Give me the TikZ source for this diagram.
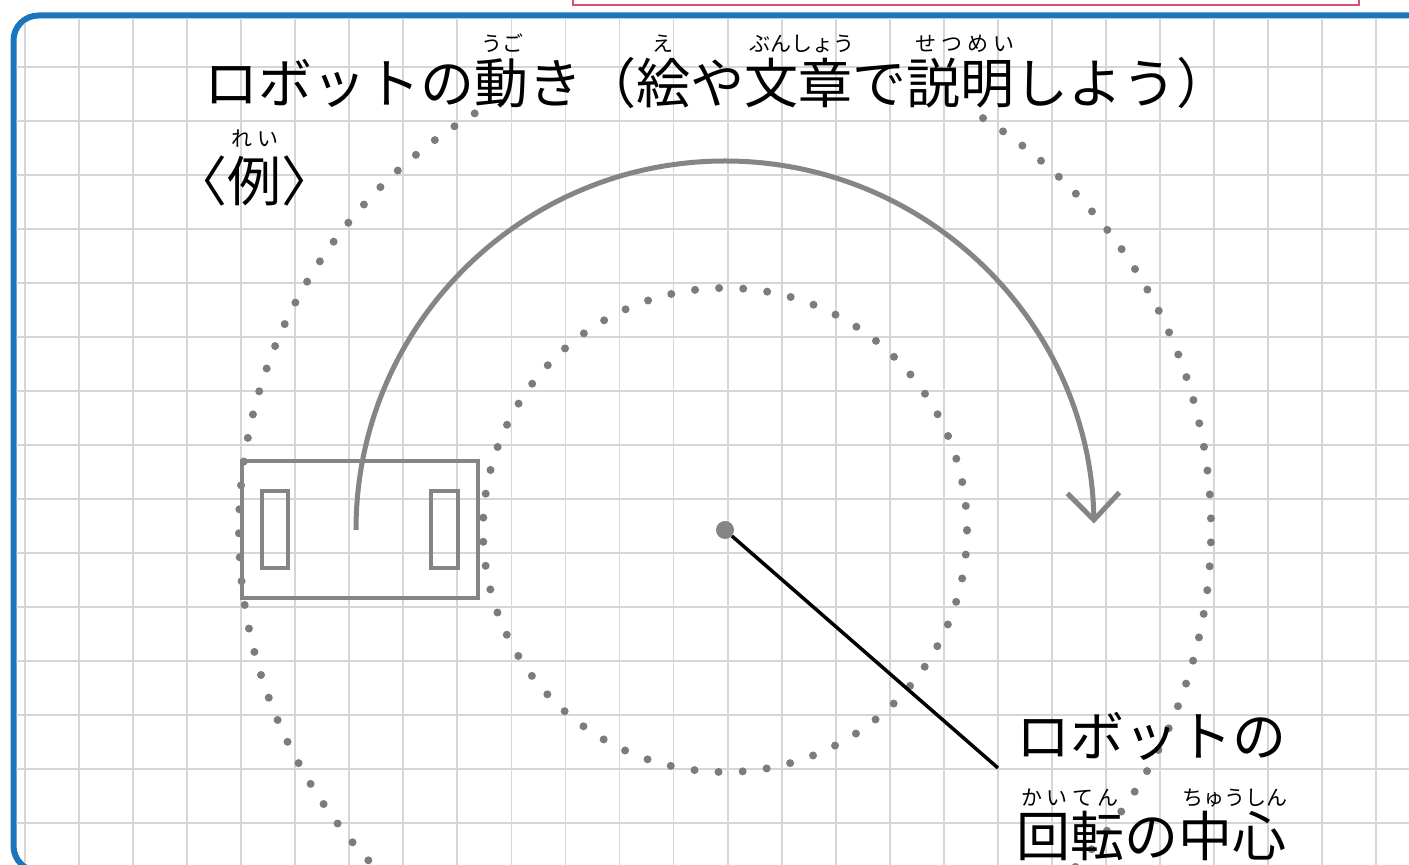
\documentclass[tikz,border=0pt]{standalone}
\usepackage{fontspec}
\newfontfamily\jp{Noto Sans CJK JP}
\usetikzlibrary{arrows.meta}
\definecolor{panelblue}{HTML}{1B75BC}
\definecolor{gridgray}{HTML}{D6D6D6}
\definecolor{shapegray}{HTML}{858585}
\definecolor{dotgray}{HTML}{7C7C7C}
\definecolor{pinkline}{HTML}{D9506F}
\tikzset{
  bigtext/.style={font=\jp\fontsize{54}{60}\selectfont, inner sep=0pt, anchor=base west},
  bigcenter/.style={font=\jp\fontsize{54}{60}\selectfont, inner sep=0pt, anchor=base},
  rubytext/.style={font=\jp\fontsize{21}{23}\selectfont, inner sep=0pt, anchor=base},
  dotline/.style={dotgray, line width=8pt, line cap=round},
  gridline/.style={gridgray, line width=1.8pt},
  robotpart/.style={draw=shapegray, line width=4.5pt, inner sep=0pt},
  arrowline/.style={shapegray, line width=5pt, -{Straight Barb[length=27pt, width=52pt]}},
  pointer/.style={black, line width=3.5pt}
}
\begin{document}
\begin{tikzpicture}[x=1pt,y=1pt]
\useasboundingbox (0,0) rectangle (1409,865);
\clip (0,0) rectangle (1409,865);
\fill[white] (0,0) rectangle (1409,865);
% pink box at top (cut off)
\draw[pinkline, line width=2pt] (573,880) |- (1359,860) -- (1359,880);
% panel
\draw[panelblue, line width=6pt, rounded corners=25pt, fill=white] (13.5,-6) rectangle (1450,849.5);
% grid
\begin{scope}
  \clip[rounded corners=22pt] (16.5,-3) rectangle (1447,846.5);
  \foreach \i in {0,...,25} \draw[gridline] ({24.95+54.05*\i},-10) -- ++(0,880);
  \foreach \k in {0,...,16} \draw[gridline] (0,{852-54*\k}) -- ++(1460,0);
\end{scope}
% centre
\coordinate (C) at (725,335);
% dotted circles
\draw[dotline, dash pattern=on 0pt off 24.13pt] (C) circle[radius=242];
\draw[dotline, dash pattern=on 0pt off 23.99pt] ([shift={(C)}]121:486) arc[start angle=121, end angle=418, radius=486];
% robot
\node[robotpart, minimum width=236pt, minimum height=137pt] (robot) at (360,335.5) {};
\node[robotpart, minimum width=26pt, minimum height=77pt] (wheelL) at (275,335.5) {};
\node[robotpart, minimum width=27pt, minimum height=77pt] (wheelR) at (444.5,335.5) {};
% motion arrow
\draw[arrowline] ([shift={(C)}]180:369) arc[start angle=180, end angle=1, radius=369];
% centre dot and pointer
\node[circle, fill=shapegray, minimum size=18pt, inner sep=0pt] (ctr) at (C) {};
\coordinate (pend) at (998,97);
\draw[pointer] (ctr) -- (pend);
% title
\node[bigtext] (title) at (204,761) {ロボットの動き（絵や文章で説明しよう）};
\node[rubytext] (rugo) at (502,813) {うご};
\node[rubytext] (re) at (663,813) {え};
\node[rubytext] (rbun) at (801,813) {\makebox[104pt][s]{ぶ\hfil ん\hfil し\hfil ょ\hfil う}};
\node[rubytext] (rsetsu) at (965,813) {\makebox[100pt][s]{せ\hfil つ\hfil め\hfil い}};
% example
\node[bigcenter] (rei) at (254,663) {〈例〉};
\node[rubytext] (rrei) at (255,718) {\makebox[48pt][s]{れ\hfil い}};
% centre label
\node[bigtext] (lab1) at (1016,108) {ロボットの};
\node[bigtext] (lab2) at (1016,8) {回転の中心};
\node[rubytext] (rkai) at (1070,59) {\makebox[98pt][s]{か\hfil い\hfil て\hfil ん}};
\node[rubytext] (rchu) at (1233,59) {\makebox[102pt][s]{ち\hfil ゅ\hfil う\hfil し\hfil ん}};
\end{tikzpicture}
\end{document}
